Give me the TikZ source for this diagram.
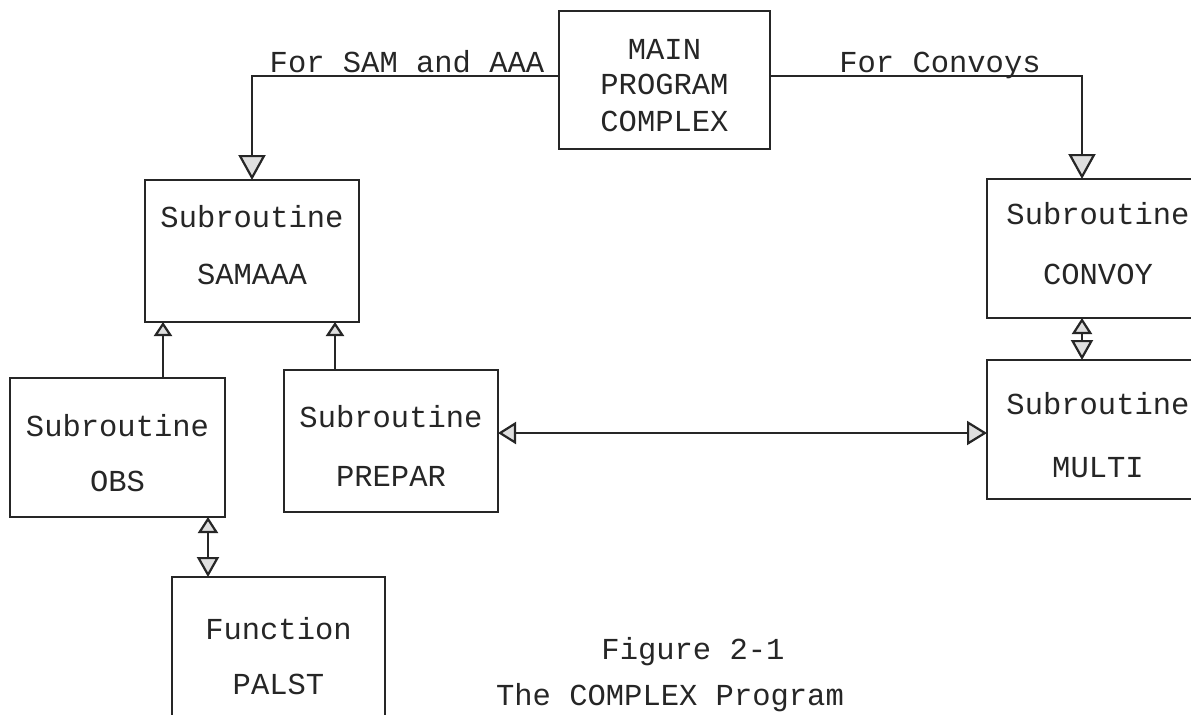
\documentclass[tikz,border=0pt]{standalone}
\usepackage{fontspec}
\setmonofont{Liberation Mono}
\usetikzlibrary{arrows.meta}
\begin{document}
\begin{tikzpicture}[x=0.5pt,y=-0.5pt,
  box/.style={draw=black!85, line width=1pt, inner sep=0pt, outer sep=0pt},
  lbl/.style={font=\ttfamily\fontsize{15.25}{18}\selectfont, text=black!85, anchor=base, inner sep=0pt},
  conn/.style={draw=black!85, line width=1.1pt},
  bigtip/.style={-{Triangle[length=12.5pt,width=13.5pt,fill=gray!25]}},
  smalltip/.style={-{Triangle[length=7pt,width=9pt,fill=gray!25]}},
  midtwo/.style={{Triangle[length=9pt,width=11pt,fill=gray!25]}-{Triangle[length=10pt,width=12pt,fill=gray!25]}},
  vtwo/.style={{Triangle[length=8pt,width=10pt,fill=gray!25]}-{Triangle[length=10pt,width=11pt,fill=gray!25]}}
]
\useasboundingbox (0,0) rectangle (1191,714);
\clip (0,0) rectangle (1191,714);
\fill[white] (0,0) rectangle (1191,714);

% boxes
\node[box, minimum width=105.5pt, minimum height=69pt] (main) at (664.5,80) {};
\node[box, minimum width=107pt, minimum height=71pt] (sam) at (252,251) {};
\node[box, minimum width=111pt, minimum height=69.5pt] (conv) at (1098,248.5) {};
\node[box, minimum width=111pt, minimum height=69.5pt] (multi) at (1098,429.5) {};
\node[box, minimum width=107.5pt, minimum height=69.5pt] (obs) at (117.5,447.5) {};
\node[box, minimum width=107pt, minimum height=71pt] (prep) at (391,441) {};
\node[box, minimum width=106.5pt, minimum height=71.5pt] (palst) at (278.5,648.5) {};

% texts
\node[lbl] (tm1) at (664.5,59) {MAIN};
\node[lbl] (tm2) at (664.5,94) {PROGRAM};
\node[lbl] (tm3) at (664.5,131) {COMPLEX};
\node[lbl] (tforsam) at (407,72) {For SAM and AAA};
\node[lbl] (tforconv) at (940,72) {For Convoys};
\node[lbl] (ts1) at (252,227) {Subroutine};
\node[lbl] (ts2) at (252,284) {SAMAAA};
\node[lbl] (tc1) at (1098,224) {Subroutine};
\node[lbl] (tc2) at (1098,284) {CONVOY};
\node[lbl] (tu1) at (1098,414) {Subroutine};
\node[lbl] (tu2) at (1098,477) {MULTI};
\node[lbl] (to1) at (117.5,436) {Subroutine};
\node[lbl] (to2) at (117.5,491) {OBS};
\node[lbl] (tp1) at (391,427) {Subroutine};
\node[lbl] (tp2) at (391,486) {PREPAR};
\node[lbl] (tf1) at (278.5,639) {Function};
\node[lbl] (tf2) at (278.5,694) {PALST};
\node[lbl] (cap1) at (693,659) {Figure 2-1};
\node[lbl] (cap2) at (670,705) {The COMPLEX Program};

% helper coordinates
\coordinate (lvl) at (0,76);
\coordinate (rx) at (1082,76);
\coordinate (xa) at (163,0);
\coordinate (xb) at (335,0);
\coordinate (xc) at (208,0);
\coordinate (yh) at (0,433);

% connectors
\draw[conn, bigtip] (main.west |- lvl) -| (sam.north);
\draw[conn, bigtip] (main.east |- rx) -- (rx) -- (rx |- conv.north);
\draw[conn, smalltip] (obs.north -| xa) -- (sam.south -| xa);
\draw[conn, smalltip] (prep.north -| xb) -- (sam.south -| xb);
\draw[conn, vtwo] (obs.south -| xc) -- (palst.north -| xc);
\draw[conn, vtwo] (conv.south -| rx) -- (multi.north -| rx);
\draw[conn, midtwo] (prep.east |- yh) -- (multi.west |- yh);
\end{tikzpicture}
\end{document}
